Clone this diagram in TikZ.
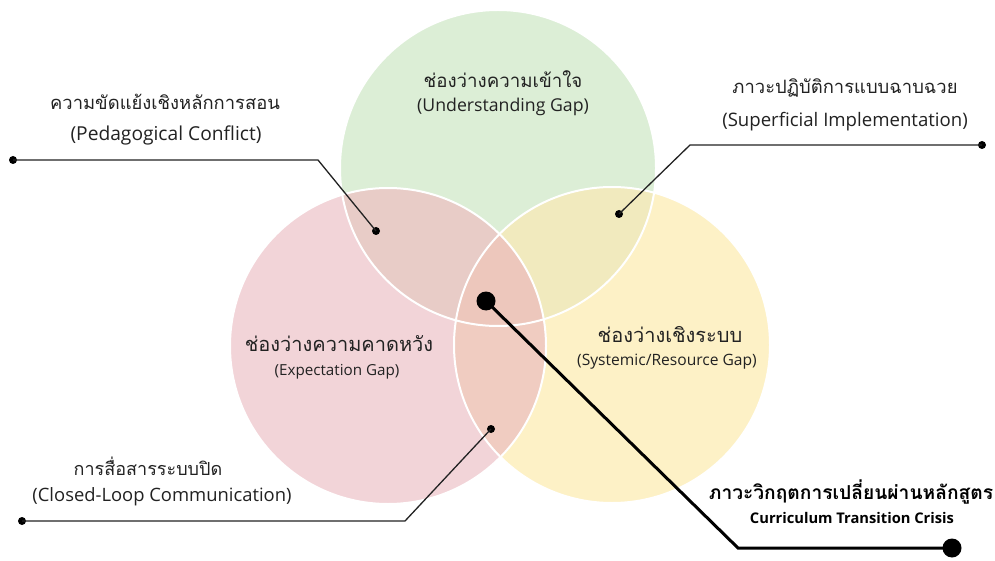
\documentclass[tikz,border=0pt]{standalone}
\usepackage{fontspec}
\setmainfont{Open Sans}
\newfontfamily\thaifont[Script=Thai]{Loma}
\definecolor{cg}{HTML}{DCEED6}
\definecolor{cp}{HTML}{F2D4D8}
\definecolor{cy}{HTML}{FDF1C6}
\definecolor{cgp}{HTML}{E8CCC7}
\definecolor{cgy}{HTML}{F1EABE}
\definecolor{cpy}{HTML}{F0CCC1}
\definecolor{cc}{HTML}{EDC7BC}
\definecolor{ink}{HTML}{222222}
\newcommand{\fs}[1]{\fontsize{#1}{#1}\selectfont}
\tikzset{
  dotsmall/.style={circle,fill=black,inner sep=0pt,minimum size=8pt},
  dotbig/.style={circle,fill=black,inner sep=0pt,minimum size=19pt},
  thin leader/.style={draw=ink,line width=1.3pt},
  thick leader/.style={draw=black,line width=3pt},
  lbl/.style={text=ink,inner sep=0pt},
  ring/.style={draw=white,line width=2pt}
}
\begin{document}
\begin{tikzpicture}[x=1pt,y=-1pt]
\useasboundingbox (0,0) rectangle (995,561);
\fill[white] (0,0) rectangle (995,561);
\coordinate (G) at (498,168);
\coordinate (P) at (388,346);
\coordinate (Y) at (612,345);
\def\R{158pt}
\fill[cg] (G) circle (\R);
\fill[cp] (P) circle (\R);
\fill[cy] (Y) circle (\R);
\begin{scope}\clip (G) circle (\R); \fill[cgp] (P) circle (\R);\end{scope}
\begin{scope}\clip (G) circle (\R); \fill[cgy] (Y) circle (\R);\end{scope}
\begin{scope}\clip (P) circle (\R); \fill[cpy] (Y) circle (\R);\end{scope}
\begin{scope}\clip (G) circle (\R); \clip (P) circle (\R); \fill[cc] (Y) circle (\R);\end{scope}
\draw[ring] (G) circle (\R);
\draw[ring] (P) circle (\R);
\draw[ring] (Y) circle (\R);

% circle labels
\node[lbl,font=\thaifont\fs{18.7}] (gt) at (503,79) {ช่องว่างความเข้าใจ};
\node[lbl,font=\fs{17.7}] (ge) at (503,107) {(Understanding Gap)};
\node[lbl,font=\thaifont\fs{20}] (pt) at (339,344) {ช่องว่างความคาดหวัง};
\node[lbl,font=\fs{15.2}] (pe) at (337,372) {(Expectation Gap)};
\node[lbl,font=\thaifont\fs{20}] (yt) at (670,335) {ช่องว่างเชิงระบบ};
\node[lbl,font=\fs{15.6}] (ye) at (667,362) {(Systemic/Resource Gap)};

% side labels
\node[lbl,font=\thaifont\fs{18.4}] (at) at (165,102) {ความขัดแย้งเชิงหลักการสอน};
\node[lbl,font=\fs{19.2}] (ae) at (166,135) {(Pedagogical Conflict)};
\node[lbl,font=\thaifont\fs{18.4}] (bt) at (845,88) {ภาวะปฏิบัติการแบบฉาบฉวย};
\node[lbl,font=\fs{18.6}] (be) at (845,122) {(Superficial Implementation)};
\node[lbl,font=\thaifont\fs{18}] (ct) at (148,466) {การสื่อสารระบบปิด};
\node[lbl,font=\fs{18.4}] (ce) at (162,497) {(Closed-Loop Communication)};
\node[lbl,font=\thaifont\bfseries\fs{19.2},text=black] (dt) at (851,492) {ภาวะวิกฤตการเปลี่ยนผ่านหลักสูตร};
\node[lbl,font=\bfseries\fs{14.7},text=black] (de) at (852,518) {Curriculum Transition Crisis};

% dots
\node[dotsmall] (a1) at (376,231) {};
\node[dotsmall] (a2) at (13,160) {};
\coordinate (ak) at (318,160);
\node[dotsmall] (b1) at (619,214) {};
\node[dotsmall] (b2) at (982,145) {};
\coordinate (bk) at (690,145);
\node[dotsmall] (c1) at (491,429) {};
\node[dotsmall] (c2) at (22,521) {};
\coordinate (ck) at (405,521);
\node[dotbig] (d1) at (486,301) {};
\node[dotbig] (d2) at (952,548) {};
\coordinate (dk) at (738,548);

\draw[thin leader] (a1.center) -- (ak) -- (a2.center);
\draw[thin leader] (b1.center) -- (bk) -- (b2.center);
\draw[thin leader] (c1.center) -- (ck) -- (c2.center);
\draw[thick leader] (d1.center) -- (dk) -- (d2.center);
\end{tikzpicture}
\end{document}
